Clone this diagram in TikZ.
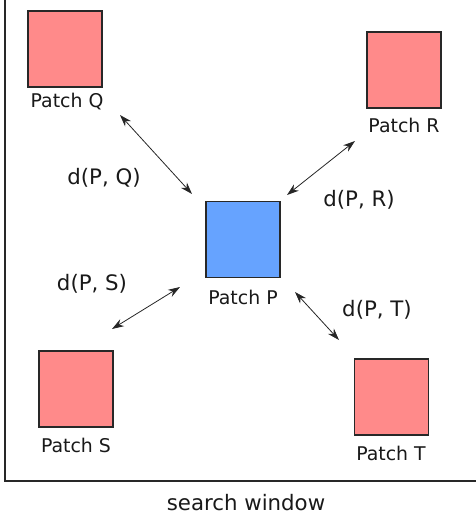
\documentclass[tikz,border=0pt]{standalone}
\usepackage{fontspec}
\setmainfont{DejaVu Sans}
\usetikzlibrary{arrows.meta}
\definecolor{patchred}{RGB}{255,138,138}
\definecolor{patchblue}{RGB}{102,163,255}
\definecolor{edge}{RGB}{40,40,40}
\begin{document}
\begin{tikzpicture}[x=1pt,y=-1pt,
  patch/.style={draw=edge,line width=1.6pt,minimum width=74pt,minimum height=76pt,inner sep=0pt},
  plabel/.style={font=\fontsize{18.9}{22}\selectfont,inner sep=0pt,text=black!90},
  dlabel/.style={font=\fontsize{21.3}{25}\selectfont,inner sep=0pt,text=black!90},
  dist/.style={{Stealth[length=12pt,width=8pt]}-{Stealth[length=12pt,width=8pt]},line width=0.8pt,black!85}]
\useasboundingbox (0,0) rectangle (476,519);
\begin{scope}
\clip (0,0) rectangle (476,519);
\draw[line width=1.6pt,edge] (5,-10) rectangle (490,481);
\end{scope}
\node[patch,fill=patchred] (Q) at (65,49) {};
\node[patch,fill=patchred] (R) at (404,70) {};
\node[patch,fill=patchblue] (P) at (243,239.5) {};
\node[patch,fill=patchred] (S) at (76,389) {};
\node[patch,fill=patchred] (T) at (391.5,397) {};
\node[plabel] (lQ) at (67,102) {Patch Q};
\node[plabel] (lR) at (404,125) {Patch R};
\node[plabel] (lP) at (243,297) {Patch P};
\node[plabel] (lS) at (76,445) {Patch S};
\node[plabel] (lT) at (391,453) {Patch T};
\node[dlabel] (sw) at (246,503) {search window};
\node[dlabel] (dQ) at (104,178) {d(P, Q)};
\node[dlabel] (dR) at (359,200) {d(P, R)};
\node[dlabel] (dS) at (92,284) {d(P, S)};
\node[dlabel] (dT) at (377,310) {d(P, T)};
\coordinate (q1) at (120,115);
\coordinate (q2) at (192,194);
\coordinate (r1) at (355,141);
\coordinate (r2) at (287,195);
\coordinate (s1) at (180,287);
\coordinate (s2) at (112,329);
\coordinate (t1) at (295,292);
\coordinate (t2) at (339,340);
\draw[dist] (q1) -- (q2);
\draw[dist] (r1) -- (r2);
\draw[dist] (s1) -- (s2);
\draw[dist] (t1) -- (t2);
\end{tikzpicture}
\end{document}
